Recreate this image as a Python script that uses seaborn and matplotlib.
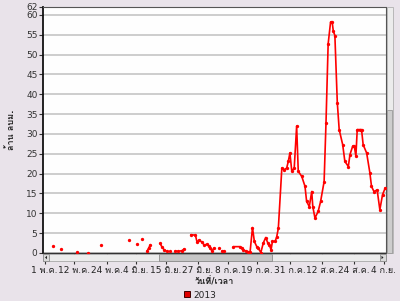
import numpy as np
import pandas as pd
import matplotlib
matplotlib.use("Agg")
import matplotlib.pyplot as plt
import seaborn as sns
from matplotlib import font_manager, ft2font
from matplotlib.patches import Rectangle, Polygon
from matplotlib.lines import Line2D

# ---------------- data (days after 1 May 2013, value in million m3) ----------------
days = [3.0, np.nan, 6.1, np.nan, 12.0, np.nan, 16.1, np.nan, 21.0, np.nan,
        31.2, np.nan, 34.3, np.nan, 36.1, np.nan,
        38.0, 38.6, 39.3, np.nan,
        42.9, 43.5, 44.4, 45.4, np.nan,
        46.6, np.nan,
        48.5, 49.7, 51.0, 51.8, np.nan,
        54.3, 56.0, 56.6, 57.5, 58.4, 59.3, 60.2, 60.9, 61.5, 62.2, 62.8, np.nan,
        64.6, np.nan,
        65.8, 66.8, np.nan,
        70.1, 72.6, 73.2, 73.8, 74.7, 75.7, 76.3, 77.2, 77.9, 78.8, 79.4, 80.3,
        81.2, 82.1, 82.9, 83.5, 84.1, 84.6, 85.6, 86.2, 86.8, 88.1, 89.0, 89.9,
        90.5, 91.1, 91.8, 92.7, 93.6, 94.2, 95.5, 96.7, 97.3, 98.3, 99.2, 99.6,
        100.4, 101.6, 102.5, 103.8, 104.5, 105.3, 106.2, 106.8, 107.2, 107.8,
        108.7, 109.4, 110.7, 111.5, 112.8, 113.4, 114.4, 115.0, 115.6, 116.1,
        117.1, 117.7, 118.3, 119.6, 120.8, 121.4, 122.3, 123.5, 124.5, 125.5, 126.5]
values = [1.8, np.nan, 0.9, np.nan, 0.3, np.nan, 0.0, np.nan, 1.9, np.nan,
          3.2, np.nan, 2.2, np.nan, 3.5, np.nan,
          0.4, 1.2, 2.1, np.nan,
          2.4, 1.6, 0.8, 0.4, np.nan,
          0.5, np.nan,
          0.5, 0.4, 0.6, 1.0, np.nan,
          4.6, 4.5, 2.8, 3.3, 2.7, 2.0, 2.2, 1.8, 1.2, 0.5, 1.2, np.nan,
          1.2, np.nan,
          0.6, 0.6, np.nan,
          1.6, 1.6, 1.2, 0.8, 0.5, 0.2, 0.2, 6.4, 2.9, 1.6, 1.2, 0.1,
          2.5, 3.9, 2.5, 2.0, 0.8, 2.9, 2.9, 4.1, 6.2, 21.4, 21.0, 21.4,
          23.1, 25.2, 20.6, 21.4, 32.0, 20.6, 19.3, 16.8, 13.0, 11.7, 15.5, 11.7,
          8.8, 10.5, 13.0, 18.0, 32.8, 52.7, 58.2, 58.2, 56.0, 54.8,
          37.9, 31.1, 27.3, 23.1, 21.8, 24.8, 26.9, 27.0, 24.4, 31.1,
          31.1, 31.1, 27.3, 25.2, 20.2, 16.8, 15.5, 15.9, 10.9, 14.7, 16.4]

tick_days = [0, 11, 23, 34, 45, 57, 68, 79, 91, 103, 115, 126]
tick_labels = ["1 พ.ค.", "12 พ.ค.", "24 พ.ค.", "4 มิ.ย.", "15 มิ.ย.", "27 มิ.ย.",
               "8 ก.ค.", "19 ก.ค.", "31 ก.ค.", "12 ส.ค.", "24 ส.ค.", "4 ก.ย."]
y_ticks = [0, 5, 10, 15, 20, 25, 30, 35, 40, 45, 50, 55, 60, 62]
series_name = "2013"
x_title = "วันที่/เวลา"
y_title = "ล้าน ลบม."

# ---------------- fonts ----------------
sns.set_theme(style="white")


def find_thai_font():
    prefer = ["DejaVu Sans", "Noto Sans", "Liberation Sans", "Open Sans", "Roboto", "Lato", "Inter"]
    cands = []
    for f in font_manager.fontManager.ttflist:
        try:
            cm = ft2font.FT2Font(f.fname).get_charmap()
        except Exception:
            continue
        if 0x0E25 in cm and 0x0E49 in cm and 0x0E27 in cm:
            cands.append(f.name)
    for p in prefer:
        if p in cands:
            return p
    for c in cands:
        if "Mono" not in c and "Serif" not in c:
            return c
    return cands[0] if cands else None


thai = find_thai_font()
fams = ["DejaVu Sans"] + ([thai] if thai and thai != "DejaVu Sans" else [])
plt.rcParams["font.family"] = fams

BG = "#e9e3ea"
W, H = 400, 301
fig = plt.figure(figsize=(W / 100, H / 100), dpi=100, facecolor=BG)
L, R, T, B = 43, 385.5, 7, 253
ax = fig.add_axes([L / W, 1 - B / H, (R - L) / W, (B - T) / H])
ax.set_facecolor("#fefefe")

df = pd.DataFrame({"day": days, "val": values})
df["seg"] = df["val"].isna().cumsum()
df = df.dropna()
for _, sub in df.groupby("seg"):
    sns.lineplot(data=sub, x="day", y="val", ax=ax, color="#ff0000", lw=1.2,
                 marker="o", markersize=2.4, markeredgewidth=0, sort=False,
                 estimator=None, clip_on=False, zorder=3)

ax.set_xlim(-0.6, 126.6)
ax.set_ylim(0, 62)
ax.set_yticks(y_ticks)
ax.set_yticklabels([str(v) for v in y_ticks])
ax.set_xticks(tick_days)
ax.set_xticklabels(tick_labels)
ax.yaxis.grid(True, color="#c9c9c9", lw=1.3)
ax.xaxis.grid(False)
ax.tick_params(axis="y", length=3, width=0.8, color="#333333", pad=1,
               labelsize=6.5, labelcolor="#333333", left=True)
ax.tick_params(axis="x", length=8, width=0.8, color="#333333", pad=1.5,
               labelsize=6.5, labelcolor="#222222", bottom=True)
for s in ["top", "right"]:
    ax.spines[s].set_color("#555555")
    ax.spines[s].set_linewidth(0.8)
ax.spines["left"].set_color("#111111")
ax.spines["left"].set_linewidth(1.3)
ax.spines["bottom"].set_color("#333333")
ax.spines["bottom"].set_linewidth(1.0)

ax.set_xlabel(x_title, fontsize=6.5, fontweight="bold", color="#222222")
ax.set_ylabel(y_title, fontsize=6.5, fontweight="bold", color="#222222")
ax.xaxis.set_label_coords(0.5, (B - 277.5) / (B - T))
ax.yaxis.set_label_coords((16 - L) / (R - L), 0.5)


def rect_px(x0, y0, x1, y1, **kw):
    r = Rectangle((x0 / W, 1 - y1 / H), (x1 - x0) / W, (y1 - y0) / H,
                  transform=fig.transFigure, zorder=5, **kw)
    fig.add_artist(r)


def tri_px(pts, **kw):
    p = Polygon([(x / W, 1 - y / H) for x, y in pts], closed=True,
                transform=fig.transFigure, zorder=6, **kw)
    fig.add_artist(p)


# horizontal scrollbar
rect_px(L, 254, R, 261, facecolor="#ececec", edgecolor="#a8a8a8", lw=0.6)
rect_px(159, 254.3, 272, 260.7, facecolor="#c6c6c6", edgecolor="#8c8c8c", lw=0.6)
rect_px(L, 254, L + 6, 261, facecolor="#dadada", edgecolor="#8c8c8c", lw=0.6)
rect_px(R - 6, 254, R, 261, facecolor="#dadada", edgecolor="#8c8c8c", lw=0.6)
tri_px([(L + 4, 255.8), (L + 4, 259.2), (L + 2, 257.5)], facecolor="#222222", lw=0)
tri_px([(R - 4, 255.8), (R - 4, 259.2), (R - 2, 257.5)], facecolor="#222222", lw=0)
# vertical scrollbar
rect_px(386.5, 7, 392.5, 253, facecolor="#ececec", edgecolor="#b0b0b0", lw=0.6)
rect_px(386.8, 110, 392.2, 253, facecolor="#cdcdcd", edgecolor="#9a9a9a", lw=0.6)

handle = Line2D([], [], ls="none", marker="s", markersize=4.5,
                markerfacecolor="#e00000", markeredgecolor="#400000", markeredgewidth=0.7)
fig.legend([handle], [series_name], loc="center", bbox_to_anchor=(200 / W, 1 - 295 / H),
           frameon=False, fontsize=6.5, handlelength=0.8, handletextpad=0.3,
           labelcolor="#222222")

fig.savefig("out.png", dpi=100, facecolor=BG)
